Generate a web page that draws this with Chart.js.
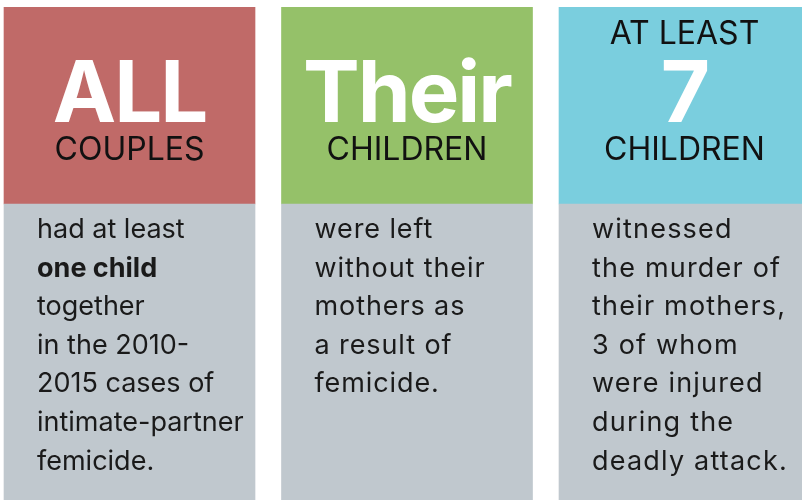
<!DOCTYPE html>
<html>
<head>
<meta charset="utf-8">
<script src="https://cdn.jsdelivr.net/npm/chart.js@4"></script>
<style>
  html, body { margin: 0; padding: 0; background: #ffffff; }
  #wrap { width: 802px; height: 504px; position: relative; }
</style>
</head>
<body>
<div id="wrap"><canvas id="panels"></canvas></div>
<script>
"use strict";

// Three panels of the infographic
const columns = [0, 1, 2];
const headerHeights = [197, 197, 197];
const bodyHeights = [296, 296, 296];

const headerColors = ['#c06a68', '#95c169', '#7acede'];
const bodyColor = '#c0c8ce';

// Header texts
const headTop = ['', '', 'AT LEAST'];
const headBig = ['ALL', 'Their', '7'];
const headSub = ['COUPLES', 'CHILDREN', 'CHILDREN'];

// Body texts, one list of lines per panel
const bodyLines = [
    ['had at least', 'one child', 'together', 'in the 2010-', '2015 cases of', 'intimate-partner', 'femicide.'],
    ['were left', 'without their', 'mothers as', 'a result of', 'femicide.'],
    ['witnessed', 'the murder of', 'their mothers,', '3 of whom', 'were injured', 'during the', 'deadly attack.']
];
// Lines that are set in bold
const boldLines = [[1], [], []];
// The second and third panels are set a bit looser
const bodySpacing = ['0px', '0.9px', '1.2px'];

const FONT = 'Inter, Lato, sans-serif';

// Writes the texts on top of the bars
const panelText = {
    id: 'panelText',
    afterDatasetsDraw(chart) {
        const ctx = chart.ctx;
        const bodyMeta = chart.getDatasetMeta(0);
        const headMeta = chart.getDatasetMeta(1);
        ctx.save();
        columns.forEach(function (i) {
            const head = headMeta.data[i];
            const body = bodyMeta.data[i];
            const cx = head.x;
            const top = head.y;
            const left = body.x - body.width / 2;

            ctx.textAlign = 'center';
            ctx.textBaseline = 'alphabetic';
            ctx.letterSpacing = '0px';
            if (headTop[i]) {
                ctx.fillStyle = '#111111';
                ctx.font = '400 32px ' + FONT;
                ctx.fillText(headTop[i], cx, top + 37);
            }
            ctx.fillStyle = '#ffffff';
            ctx.font = '700 85px ' + FONT;
            ctx.letterSpacing = '-2px';
            ctx.fillText(headBig[i], cx, top + 115);

            ctx.letterSpacing = '0px';
            ctx.fillStyle = '#111111';
            ctx.font = '400 32px ' + FONT;
            ctx.fillText(headSub[i], cx, top + 153);

            ctx.textAlign = 'left';
            ctx.fillStyle = '#1a1a1a';
            ctx.letterSpacing = bodySpacing[i];
            bodyLines[i].forEach(function (line, n) {
                const bold = boldLines[i].indexOf(n) >= 0;
                ctx.font = (bold ? '700 ' : '400 ') + '27px ' + FONT;
                ctx.fillText(line, left + 33, body.y + 34 + n * 38.6);
            });
        });
        ctx.restore();
    }
};

new Chart(document.getElementById('panels'), {
    type: 'bar',
    data: {
        datasets: [
            {
                label: 'body',
                data: columns.map(function (c, i) { return { x: c, y: bodyHeights[i] }; }),
                backgroundColor: bodyColor,
                borderWidth: 0,
                barThickness: 251
            },
            {
                label: 'header',
                data: columns.map(function (c, i) { return { x: c, y: headerHeights[i] }; }),
                backgroundColor: headerColors,
                borderWidth: 0,
                barThickness: 251
            }
        ]
    },
    options: {
        responsive: true,
        maintainAspectRatio: false,
        animation: false,
        layout: { padding: { top: 7, bottom: 4, left: 0, right: 0 } },
        plugins: {
            legend: { display: false },
            tooltip: { enabled: false }
        },
        scales: {
            x: {
                type: 'linear',
                stacked: true,
                offset: false,
                min: -0.4667,
                max: 2.4234,
                display: false,
                grid: { display: false }
            },
            y: {
                stacked: true,
                min: 0,
                max: 493,
                display: false,
                grid: { display: false }
            }
        }
    },
    plugins: [panelText]
});
</script>
</body>
</html>
